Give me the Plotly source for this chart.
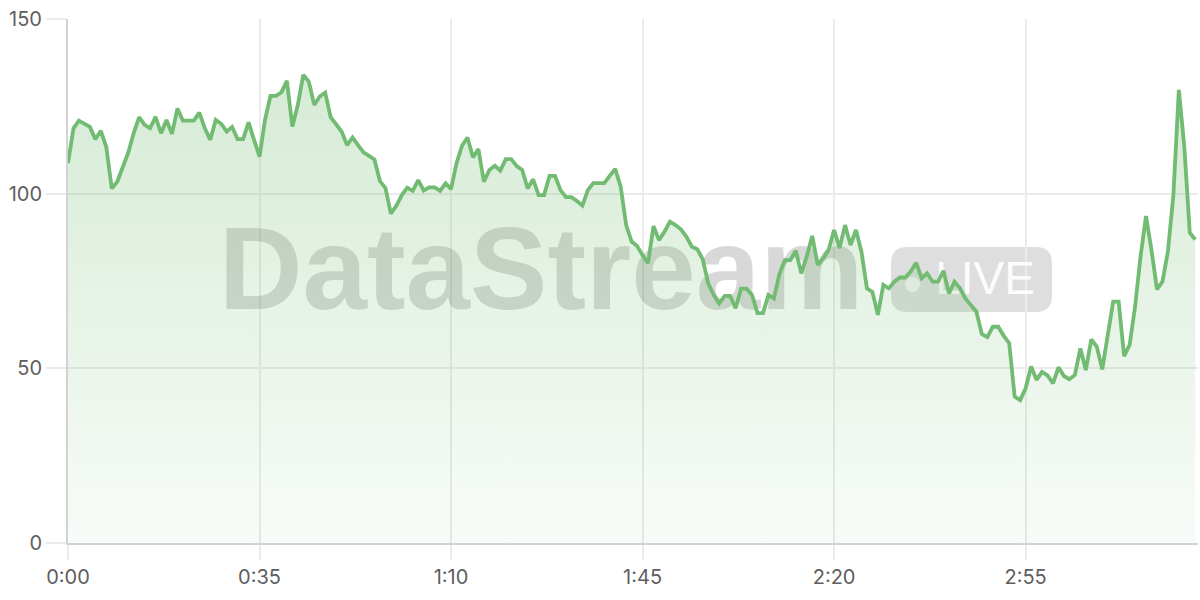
import plotly.graph_objects as go

# ---- data (one sample per second) ----
values = [
    108.7, 118.7, 120.9, 120.0, 119.1, 115.6, 118.0, 113.3, 101.5, 103.4,
    107.9, 111.7, 117.3, 121.9, 119.7, 118.7, 122.0, 117.3, 121.1, 117.1,
    124.4, 120.9, 120.9, 120.9, 123.2, 118.7, 115.4, 121.1, 120.0, 117.8,
    119.1, 115.6, 115.6, 120.4, 115.4, 110.6, 121.1, 128.0, 128.0, 129.0,
    132.3, 119.2, 125.4, 134.0, 132.1, 125.4, 127.8, 128.9, 121.9, 119.7,
    117.8, 113.9, 116.1, 113.9, 111.8, 110.8, 109.8, 103.6, 101.7, 94.3,
    96.5, 99.6, 101.7, 100.8, 103.9, 100.9, 101.8, 101.8, 100.8, 103.0,
    101.3, 108.7, 113.7, 116.1, 110.4, 112.8, 103.4, 106.8, 108.0, 106.6,
    109.9, 109.9, 107.9, 106.8, 101.5, 104.1, 99.6, 99.6, 105.1, 105.1,
    101.0, 99.0, 99.0, 97.9, 96.6, 101.0, 103.0, 103.0, 103.0, 105.1,
    107.1, 102.0, 91.0, 86.3, 85.0, 82.4, 80.1, 90.7, 86.7, 89.1,
    92.0, 91.0, 89.8, 87.7, 84.8, 84.1, 81.2, 74.3, 71.0, 68.6,
    70.7, 70.7, 67.2, 72.8, 72.8, 71.0, 65.8, 65.8, 71.0, 70.0,
    77.0, 81.0, 81.0, 83.7, 77.2, 82.0, 87.9, 79.6, 81.5, 83.9,
    89.6, 84.4, 91.0, 85.3, 89.6, 83.4, 72.9, 71.9, 65.3, 73.9,
    72.9, 74.8, 76.0, 76.0, 77.7, 80.2, 75.8, 77.2, 74.8, 74.8,
    77.9, 71.4, 74.8, 72.9, 70.0, 68.1, 66.2, 59.8, 58.9, 61.9,
    61.9, 59.3, 57.2, 41.9, 40.9, 44.3, 50.5, 46.7, 49.0, 48.0,
    45.7, 50.3, 47.8, 46.9, 48.1, 55.7, 49.5, 58.3, 56.2, 49.7,
    59.5, 69.1, 69.1, 53.5, 56.7, 67.6, 82.0, 93.6, 83.9, 72.6,
    74.8, 83.4, 99.6, 129.7, 113.4, 88.8, 86.9,
]
seconds = list(range(len(values)))

x_tick_vals = [0, 35, 70, 105, 140, 175]
x_tick_text = ["0:00", "0:35", "1:10", "1:45", "2:20", "2:55"]
y_tick_vals = [0, 50, 100, 150]

watermark_text = "DataStream"
badge_text = "LIVE"

LINE = "#72BB72"
GRID = "#EBEBEB"
AXIS = "#D2D2D2"
TICKFONT = dict(family="Inter, 'Liberation Sans', sans-serif", size=20, color="#5E5E5E")

# pixel helpers for the fixed-position watermark
px_per_s = 1130 / 206.5
px_per_u = 524 / 150.0
def dx(px):
    return (px - 68) / px_per_s
def dy(py):
    return (543 - py) / px_per_u

fig = go.Figure()

# watermark (drawn beneath the data)
fig.add_trace(go.Scatter(
    x=[dx(541)], y=[dy(280)], mode="text", text=[watermark_text],
    textposition="middle center",
    textfont=dict(family="Liberation Sans, Arial, sans-serif", size=116,
                  color="rgba(60,60,60,0.20)", weight="bold"),
    hoverinfo="skip", showlegend=False, cliponaxis=False,
))
fig.add_trace(go.Scatter(
    x=[dx(985)], y=[dy(282)], mode="text", text=[badge_text],
    textposition="middle center",
    textfont=dict(family="Liberation Sans, Arial, sans-serif", size=46,
                  color="rgba(255,255,255,0.95)"),
    hoverinfo="skip", showlegend=False, cliponaxis=False,
))

# main area series
fig.add_trace(go.Scatter(
    x=seconds, y=values, mode="lines",
    line=dict(color=LINE, width=3.8),
    fill="tozeroy",
    fillgradient=dict(
        type="vertical", start=0, stop=135,
        colorscale=[[0, "rgba(116,187,116,0.05)"], [1, "rgba(116,187,116,0.30)"]],
    ),
    hoverinfo="skip", showlegend=False,
))

# LIVE pill (rounded rectangle)
x0, x1, y0, y1, r = 891, 1052, 247, 312, 16
path = (
    f"M {dx(x0 + r)},{dy(y0)} L {dx(x1 - r)},{dy(y0)} "
    f"Q {dx(x1)},{dy(y0)} {dx(x1)},{dy(y0 + r)} "
    f"L {dx(x1)},{dy(y1 - r)} Q {dx(x1)},{dy(y1)} {dx(x1 - r)},{dy(y1)} "
    f"L {dx(x0 + r)},{dy(y1)} Q {dx(x0)},{dy(y1)} {dx(x0)},{dy(y1 - r)} "
    f"L {dx(x0)},{dy(y0 + r)} Q {dx(x0)},{dy(y0)} {dx(x0 + r)},{dy(y0)} Z"
)
fig.add_shape(type="path", path=path, xref="x", yref="y",
              fillcolor="rgba(0,0,0,0.13)", line=dict(width=0), layer="below")
fig.add_shape(type="circle", xref="x", yref="y",
              x0=dx(905), x1=dx(920), y0=dy(292), y1=dy(277),
              fillcolor="rgba(255,255,255,0.7)", line=dict(width=0), layer="below")

fig.update_layout(
    width=1200, height=600,
    margin=dict(l=68, r=2, t=19, b=57),
    paper_bgcolor="white", plot_bgcolor="white",
    showlegend=False,
)
fig.update_xaxes(
    range=[0, 206.5], tickvals=x_tick_vals, ticktext=x_tick_text,
    showgrid=True, gridcolor=GRID, gridwidth=1.5,
    ticks="outside", ticklen=15, tickcolor=GRID, tickwidth=1.5,
    showline=True, linecolor=AXIS, linewidth=2,
    zeroline=False, tickfont=TICKFONT,
)
fig.update_yaxes(
    range=[0, 150], tickvals=y_tick_vals,
    showgrid=True, gridcolor=GRID, gridwidth=1.5,
    ticks="outside", ticklen=20, tickcolor=GRID, tickwidth=1.5,
    showline=True, linecolor=AXIS, linewidth=2,
    zeroline=False, tickfont=TICKFONT,
)

fig.write_html("out.html", config={"displayModeBar": False},
               post_script="document.body.style.margin='0';")
